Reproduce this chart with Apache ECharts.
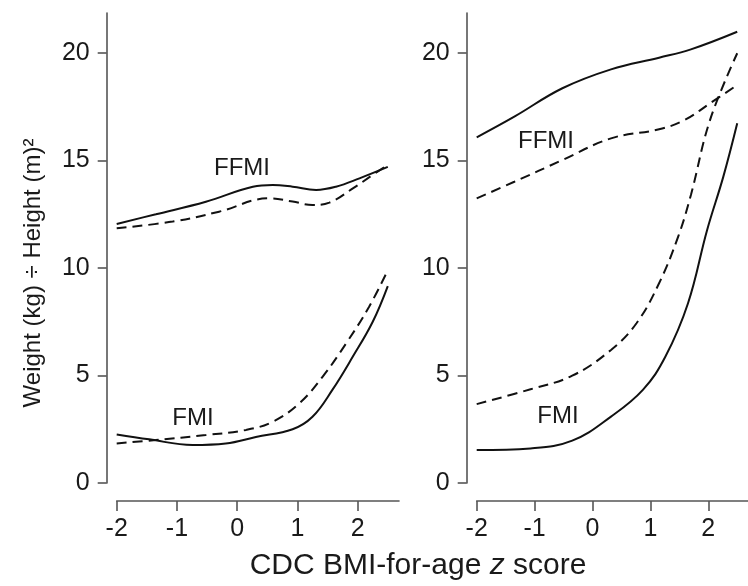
<!DOCTYPE html>
<html>
<head>
<meta charset="utf-8">
<script src="https://cdn.jsdelivr.net/npm/echarts@6/dist/echarts.min.js"></script>
<style>
html,body{margin:0;padding:0;background:#fff;}
#chart{width:748px;height:586px;}
</style>
</head>
<body>
<div id="chart"></div>
<script>
// ---- data ----
var xTicks = [-2, -1, 0, 1, 2];
var yTicks = [0, 5, 10, 15, 20];

// left panel
var leftFfmiSolidX = [-2, -1.35, -0.52, 0.26, 0.59, 0.92, 1.31, 1.64, 2.03, 2.5];
var leftFfmiSolidY = [12.05, 12.5, 13.08, 13.78, 13.86, 13.78, 13.63, 13.78, 14.17, 14.7];
var leftFfmiDashX = [-2, -1.07, -0.30, 0.53, 0.92, 1.25, 1.53, 1.92, 2.25, 2.5];
var leftFfmiDashY = [11.85, 12.16, 12.62, 13.24, 13.09, 12.93, 13.04, 13.7, 14.33, 14.8];
var leftFmiSolidX = [-2, -1.46, -0.74, -0.19, 0.31, 0.92, 1.25, 1.58, 1.92, 2.25, 2.5];
var leftFmiSolidY = [2.26, 2.03, 1.77, 1.84, 2.14, 2.50, 3.08, 4.33, 5.88, 7.5, 9.16];
var leftFmiDashX = [-2, -1.35, -0.52, 0.15, 0.59, 1.03, 1.42, 1.81, 2.19, 2.5];
var leftFmiDashY = [1.84, 2.0, 2.23, 2.47, 2.85, 3.7, 4.95, 6.5, 8.2, 9.9];

// right panel
var rightFfmiSolidX = [-2, -1.35, -0.52, 0.32, 1.15, 1.70, 2.5];
var rightFfmiSolidY = [16.08, 17.04, 18.36, 19.24, 19.78, 20.17, 20.99];
var rightFfmiDashX = [-2, -1.35, -0.52, 0.32, 1.15, 1.59, 2.03, 2.5];
var rightFfmiDashY = [13.24, 14.01, 15.02, 16.03, 16.45, 16.88, 17.66, 18.51];
var rightFmiSolidX = [-2, -1.07, -0.35, 0.32, 0.87, 1.26, 1.65, 1.98, 2.26, 2.5];
var rightFmiSolidY = [1.53, 1.61, 1.97, 3.09, 4.33, 5.88, 8.36, 11.77, 14.25, 16.73];
var rightFmiDashX = [-2, -1.07, -0.35, 0.32, 0.76, 1.15, 1.48, 1.70, 2.03, 2.5];
var rightFmiDashY = [3.67, 4.36, 4.99, 6.19, 7.43, 9.29, 11.46, 13.4, 16.88, 19.99];

var labelFfmi = 'FFMI';
var labelFmi = 'FMI';
var yTitle = 'Weight (kg) \u00F7 Height (m)\u00B2';

// ---- chart ----
function zip(xs, ys) { return xs.map(function (x, i) { return [x, ys[i]]; }); }

var FONT = '"Liberation Sans", Arial, sans-serif';
var AX = '#555';

function xAxisCfg(gi) {
  return {
    type: 'value', gridIndex: gi, min: -2, max: 2.686, offset: 18,
    axisLine: { show: true, onZero: false, lineStyle: { color: AX, width: 1.6 } },
    axisTick: { show: true, length: 10, customValues: xTicks, lineStyle: { color: AX, width: 1.6 } },
    axisLabel: { customValues: xTicks, fontSize: 25, color: '#1a1a1a', fontFamily: FONT, margin: 16 },
    splitLine: { show: false }
  };
}
function yAxisCfg(gi) {
  return {
    type: 'value', gridIndex: gi, min: 0, max: 21.86, offset: 10,
    axisLine: { show: true, onZero: false, lineStyle: { color: AX, width: 1.6 } },
    axisTick: { show: true, length: 9, customValues: yTicks, lineStyle: { color: AX, width: 1.6 } },
    axisLabel: { customValues: yTicks, fontSize: 25, color: '#1a1a1a', fontFamily: FONT, margin: 17 },
    splitLine: { show: false }
  };
}
function line(gi, xs, ys, dashed) {
  return {
    type: 'line', xAxisIndex: gi, yAxisIndex: gi, data: zip(xs, ys),
    smooth: 0.4, symbol: 'none', silent: true,
    lineStyle: { color: '#111', width: 2, type: dashed ? [10, 6] : 'solid' }
  };
}
function txt(x, y, s) {
  return { type: 'text', x: x, y: y, style: { text: s, fontSize: 24, fontFamily: FONT, fill: '#1a1a1a', align: 'center', verticalAlign: 'middle' } };
}

var chart = echarts.init(document.getElementById('chart'), null, { renderer: 'canvas' });
chart.setOption({
  backgroundColor: '#fff',
  animation: false,
  grid: [
    { left: 116.7, right: 349, top: 13, bottom: 103 },
    { left: 476.7, right: -10.8, top: 13, bottom: 103 }
  ],
  xAxis: [xAxisCfg(0), xAxisCfg(1)],
  yAxis: [yAxisCfg(0), yAxisCfg(1)],
  series: [
    line(0, leftFfmiSolidX, leftFfmiSolidY, false),
    line(0, leftFfmiDashX, leftFfmiDashY, true),
    line(0, leftFmiSolidX, leftFmiSolidY, false),
    line(0, leftFmiDashX, leftFmiDashY, true),
    line(1, rightFfmiSolidX, rightFfmiSolidY, false),
    line(1, rightFfmiDashX, rightFfmiDashY, true),
    line(1, rightFmiSolidX, rightFmiSolidY, false),
    line(1, rightFmiDashX, rightFmiDashY, true)
  ],
  graphic: [
    txt(242, 168, labelFfmi),
    txt(193, 418, labelFmi),
    txt(546, 141, labelFfmi),
    txt(558, 416, labelFmi),
    {
      type: 'text', x: 33, y: 273, rotation: Math.PI / 2,
      style: { text: yTitle, fontSize: 24, fontFamily: FONT, fill: '#1a1a1a', align: 'center', verticalAlign: 'middle' }
    },
    {
      type: 'text', x: 418, y: 566,
      style: {
        text: '{a|CDC BMI-for-age }{b|z}{a| score}', align: 'center', verticalAlign: 'middle',
        rich: {
          a: { fontSize: 30, fontFamily: FONT, fill: '#1a1a1a' },
          b: { fontSize: 30, fontFamily: FONT, fill: '#1a1a1a', fontStyle: 'italic' }
        }
      }
    }
  ]
});
</script>
</body>
</html>
